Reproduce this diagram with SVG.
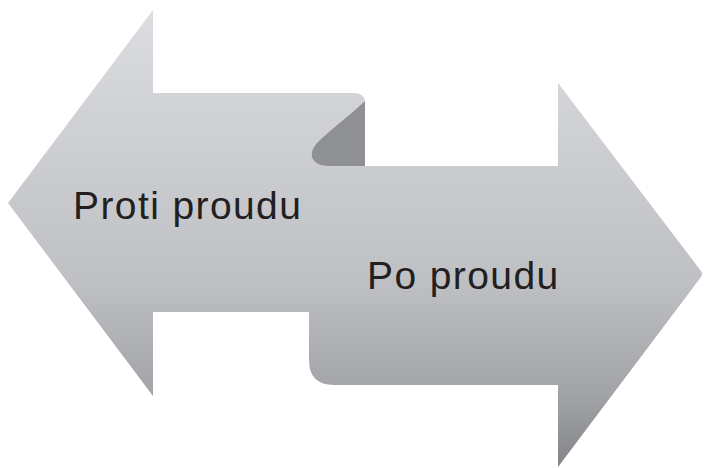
<svg xmlns="http://www.w3.org/2000/svg" width="704" height="468" viewBox="0 0 704 468">
  <defs>
    <linearGradient id="g" gradientUnits="userSpaceOnUse" x1="0" y1="0" x2="0" y2="468">
      <stop offset="0" stop-color="#dddee1"/>
      <stop offset="0.6" stop-color="#bfc0c3"/>
      <stop offset="0.85" stop-color="#a1a2a5"/>
      <stop offset="1" stop-color="#838487"/>
    </linearGradient>
    <style>
      .arrow { fill: url(#g); }
      .fold { fill: #8f9093; }
      .label { font-family: "Liberation Sans", Arial, Helvetica, sans-serif; font-size: 39px; letter-spacing: 1.4px; fill: #231f20; }
    </style>
  </defs>
  <rect width="704" height="468" fill="#ffffff"/>
  <g id="upstream">
    <path class="arrow" d="M8,203 L153,10 L153,93 L353,93 Q364,93 365,101 C350,115 330,130 318,142 C306,154 312,166 328,166 L328,312 L153,312 L153,396 Z"/>
    <text class="label" x="73" y="219">Proti proudu</text>
  </g>
  <g id="downstream">
    <path class="arrow" d="M309,166 L558,166 L558,83 L701,271 Q703,274 701,277 L558,467 L558,385 L334,385 Q309,385 309,360 Z"/>
    <path class="fold" d="M365,101 C350,115 330,130 318,142 C306,154 312,166 328,166 L365,166 Z"/>
    <text class="label" x="367" y="289">Po proudu</text>
  </g>
  <g id="connectors"/>
</svg>
